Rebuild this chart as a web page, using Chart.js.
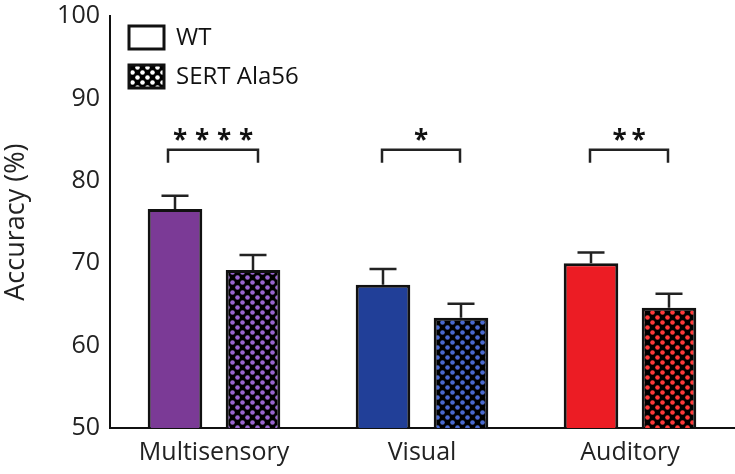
<!DOCTYPE html>
<html>
<head>
<meta charset="utf-8">
<script src="https://cdn.jsdelivr.net/npm/chart.js@4"></script>
<style>
  html, body { margin: 0; padding: 0; background: #fff; }
  #wrap { width: 735px; height: 474px; position: relative; }
</style>
</head>
<body>
<div id="wrap"><canvas id="chart"></canvas></div>
<script>
const categories = ['Multisensory', 'Visual', 'Auditory'];
const wtValues = [76.6, 67.4, 70.0];
const wtErrors = [1.6, 1.9, 1.3];
const sertValues = [69.2, 63.4, 64.6];
const sertErrors = [1.8, 1.7, 1.7];
const seriesNames = ['WT', 'SERT Ala56'];
const sigStars = [4, 1, 2];
const sigLevel = 83.8;
const yTicks = [50, 60, 70, 80, 90, 100];

const solidColors = ['#7b3a96', '#213f98', '#ec1c24'];
const dotColors = ['#9a66d0', '#4a6ad0', '#ff3a3a'];
const FONT = '"Open Sans", "DejaVu Sans", sans-serif';

function dotPattern(dot) {
  const c = document.createElement('canvas');
  c.width = 10; c.height = 10;
  const g = c.getContext('2d');
  g.fillStyle = '#000';
  g.fillRect(0, 0, 10, 10);
  g.fillStyle = dot;
  [[2.5, 2.5], [7.5, 7.5]].forEach(([x, y]) => {
    g.beginPath();
    g.arc(x, y, 2.3, 0, Math.PI * 2);
    g.fill();
  });
  return g.createPattern(c, 'repeat');
}

const ctx = document.getElementById('chart').getContext('2d');
const patterns = dotColors.map(dotPattern);
const legendPattern = dotPattern('#fff');

// error bars, significance brackets and legend
const extras = {
  id: 'extras',
  afterDatasetsDraw(chart) {
    const g = chart.ctx;
    const y = chart.scales.y;
    const errs = [wtErrors, sertErrors];
    const vals = [wtValues, sertValues];
    g.save();
    g.strokeStyle = '#222';
    g.lineWidth = 2.5;
    [0, 1].forEach(d => {
      chart.getDatasetMeta(d).data.forEach((bar, i) => {
        const top = y.getPixelForValue(vals[d][i]);
        const hi = y.getPixelForValue(vals[d][i] + errs[d][i]);
        g.beginPath();
        g.moveTo(bar.x, top);
        g.lineTo(bar.x, hi);
        g.moveTo(bar.x - 13.5, hi);
        g.lineTo(bar.x + 13.5, hi);
        g.stroke();
      });
    });
    const by = y.getPixelForValue(sigLevel);
    g.fillStyle = '#111';
    g.font = 'bold 26px ' + FONT;
    g.textAlign = 'center';
    g.textBaseline = 'middle';
    categories.forEach((c, i) => {
      const pad = i === 0 ? 6 : 0;
      const x0 = chart.getDatasetMeta(0).data[i].x - 1 - pad;
      const x1 = chart.getDatasetMeta(1).data[i].x - 1 + pad;
      g.beginPath();
      g.moveTo(x0, by + 13);
      g.lineTo(x0, by);
      g.lineTo(x1, by);
      g.lineTo(x1, by + 13);
      g.stroke();
      const n = sigStars[i];
      const step = n > 2 ? 22 : 19;
      const cx = (x0 + x1) / 2;
      for (let k = 0; k < n; k++) {
        g.fillText('*', cx + (k - (n - 1) / 2) * step, by - 8);
      }
    });
    // legend
    const lx = chart.chartArea.left + 19;
    const boxes = [{ y: 26, fill: '#fff' }, { y: 65, fill: legendPattern }];
    g.font = '24px ' + FONT;
    g.textAlign = 'left';
    boxes.forEach((b, i) => {
      g.fillStyle = b.fill;
      g.fillRect(lx, b.y, 35, 23);
      g.lineWidth = 3;
      g.strokeStyle = '#111';
      g.strokeRect(lx, b.y, 35, 23);
      g.fillStyle = '#111';
      g.fillText(seriesNames[i], lx + 47, b.y + 12);
    });
    g.restore();
  }
};

new Chart(ctx, {
  type: 'bar',
  data: {
    labels: categories,
    datasets: [
      { label: seriesNames[0], data: wtValues, backgroundColor: solidColors, borderColor: '#111', borderWidth: 3, borderSkipped: false },
      { label: seriesNames[1], data: sertValues, backgroundColor: patterns, borderColor: '#111', borderWidth: 3, borderSkipped: false },
    ],
  },
  options: {
    responsive: true,
    maintainAspectRatio: false,
    animation: false,
    categoryPercentage: 0.75,
    barPercentage: 0.7,
    layout: { padding: { top: 14, right: 1, left: 0, bottom: 0 } },
    plugins: { legend: { display: false }, tooltip: { enabled: false } },
    scales: {
      x: {
        grid: { display: false, drawTicks: false },
        border: { display: true, color: '#111', width: 2 },
        ticks: { color: '#222', font: { family: FONT, size: 25 }, padding: 10 },
        afterFit: s => { s.height = 46; },
      },
      y: {
        min: 50,
        max: 100,
        afterBuildTicks: s => { s.ticks = yTicks.map(v => ({ value: v })); },
        grid: { display: false, drawTicks: false },
        border: { display: true, color: '#111', width: 2 },
        ticks: { color: '#222', font: { family: FONT, size: 25, lineHeight: 0.5 }, padding: 10 },
        title: { display: true, text: 'Accuracy (%)', color: '#222', font: { family: FONT, size: 27 }, padding: { top: 0, bottom: 0 } },
        afterFit: s => { s.width = 110; },
      },
    },
  },
  plugins: [extras],
});
</script>
</body>
</html>
